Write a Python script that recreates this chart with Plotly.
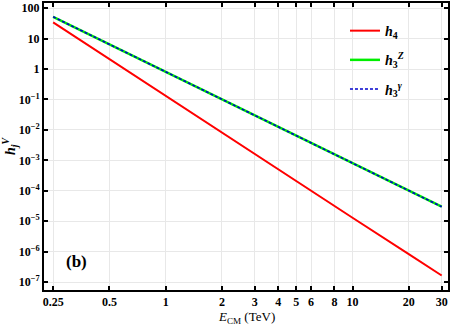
import plotly.graph_objects as go

# Data
energy_tev = [0.25, 0.5, 1, 2, 3, 5, 10, 20, 30]
h4 = [34, 2.1, 0.13, 8.3e-3, 1.65e-3, 2.1e-4, 1.3e-5, 8.3e-7, 1.65e-7]
h3Z = [52, 6.5, 0.81, 0.10, 0.030, 0.0065, 8.1e-4, 1.0e-4, 3.0e-5]
h3g = [52, 6.5, 0.81, 0.10, 0.030, 0.0065, 8.1e-4, 1.0e-4, 3.0e-5]

x_ticks = [0.25, 0.5, 1, 2, 3, 4, 5, 6, 8, 10, 20, 30]
x_ticktext = ["0.25", "0.5", "1", "2", "3", "4", "5", "6", "8", "10", "20", "30"]
y_ticks = [100, 10, 1, 1e-1, 1e-2, 1e-3, 1e-4, 1e-5, 1e-6, 1e-7]
y_ticktext = ["100", "10", "1", "10<sup>−1</sup>", "10<sup>−2</sup>", "10<sup>−3</sup>",
              "10<sup>−4</sup>", "10<sup>−5</sup>", "10<sup>−6</sup>", "10<sup>−7</sup>"]

serif = "Liberation Serif"

fig = go.Figure()
fig.add_trace(go.Scatter(x=energy_tev, y=h4, mode="lines", name="<b><i>h</i><sub>4</sub></b>",
                         legendgroup="a", line=dict(color="#ff0000", width=2)))
fig.add_trace(go.Scatter(x=energy_tev, y=h3Z, mode="lines", name="<b><i>h</i><sub>3</sub><sup><i>Z</i></sup></b>",
                         legendgroup="b", line=dict(color="#00ee00", width=2.5)))
fig.add_trace(go.Scatter(x=energy_tev, y=h3g, mode="lines", name="<b><i>h</i><sub>3</sub><sup><i>γ</i></sup></b>",
                         legendgroup="c", line=dict(color="#0000cc", width=1.6, dash="3px,2px")))

axis_common = dict(
    showline=True, linecolor="black", linewidth=2, mirror="ticks",
    ticks="inside", ticklen=4, tickwidth=1.5, tickcolor="black",
    showgrid=True, gridcolor="#e8e8e8", gridwidth=1, zeroline=False,
    automargin=False,
    tickfont=dict(family=serif, size=12, color="black", weight="bold"),
)

fig.update_xaxes(type="log", range=[-0.651, 1.511], tickvals=x_ticks, ticktext=x_ticktext,
                 **axis_common)
fig.update_yaxes(type="log", range=[-7.26, 2.17], tickvals=y_ticks, ticktext=y_ticktext,
                 title=dict(text="<b><i>h</i><sub><i>j</i></sub><sup><i>V</i></sup></b>",
                            font=dict(family=serif, size=14, color="black"), standoff=2),
                 **axis_common)

fig.add_annotation(x=0.5, y=-0.097, xref="paper", yref="paper",
                   text="<i>E</i><sub>CM</sub> (TeV)", showarrow=False,
                   font=dict(family=serif, size=13, color="black"), xanchor="center", yanchor="middle")

fig.add_annotation(x=0.05, y=0.098, xref="paper", yref="paper", text="<b>(b)</b>", showarrow=False,
                   font=dict(family=serif, size=17, color="black"), xanchor="left", yanchor="middle")

fig.update_layout(
    width=452, height=327,
    margin=dict(l=44, r=4, t=3, b=37),
    plot_bgcolor="white", paper_bgcolor="white",
    legend=dict(x=0.745, y=0.958, xanchor="left", yanchor="top", bgcolor="rgba(0,0,0,0)",
                font=dict(family=serif, size=14, color="black"), itemwidth=30, tracegroupgap=8),
)

fig.write_html("out.html", post_script="document.body.style.margin='0';",
               config={"displayModeBar": False})
